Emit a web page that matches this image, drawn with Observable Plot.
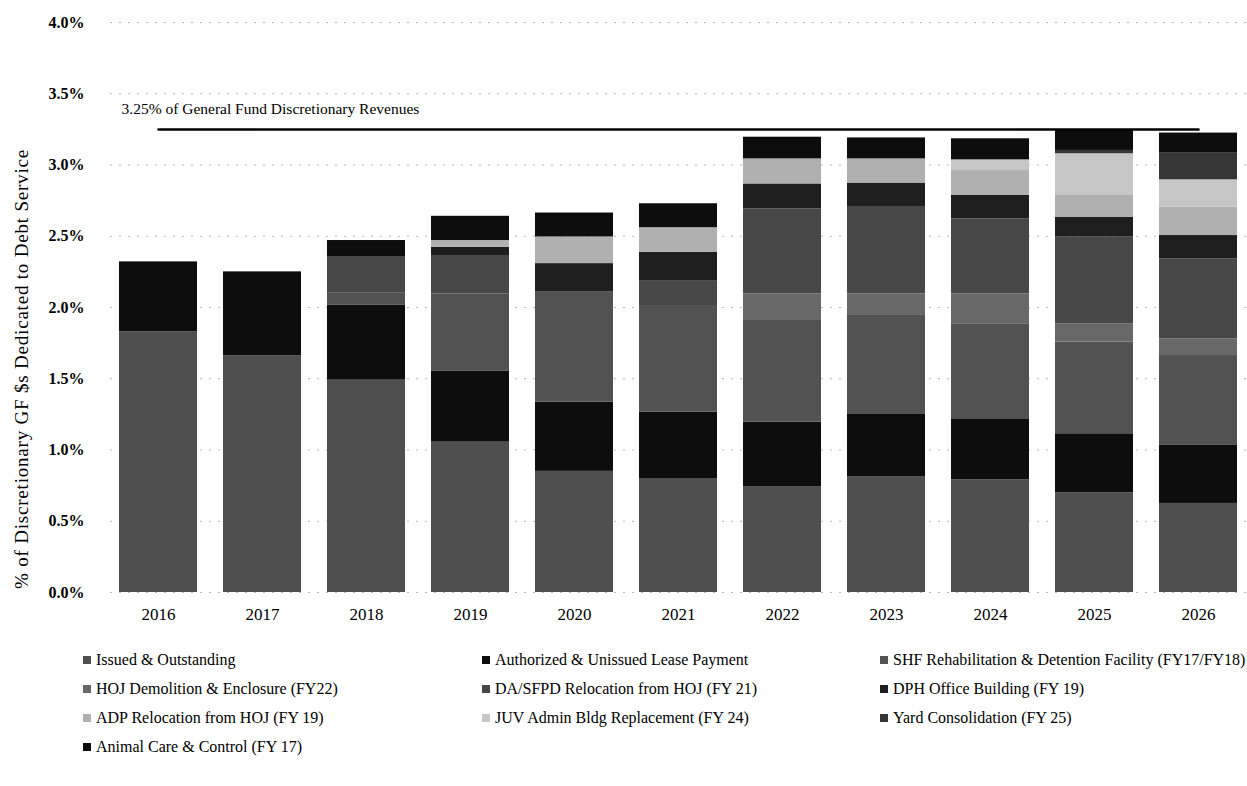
<!DOCTYPE html>
<html>
<head>
<meta charset="utf-8">
<script src="https://cdn.jsdelivr.net/npm/d3@7"></script>
<script src="https://cdn.jsdelivr.net/npm/@observablehq/plot@0.6"></script>
<style>
  html, body { margin: 0; padding: 0; background: #fff; overflow: hidden; }
  body { width: 1247px; height: 786px; position: relative; font-family: "Liberation Serif", "Times New Roman", serif; color: #000; }
  #chart { position: absolute; left: 0; top: 0; }
  #ytitle { position: absolute; left: 22px; top: 369px; transform: translate(-50%, -50%) rotate(-90deg); white-space: nowrap; font-size: 19px; letter-spacing: 0.8px; }
  #legend { position: absolute; left: 0; top: 650px; width: 1247px; }
  .item { position: absolute; white-space: nowrap; font-size: 16px; line-height: 20px; display: flex; align-items: center; }
  .sw { width: 8px; height: 8px; display: inline-block; margin-right: 5px; }
</style>
</head>
<body>
<div id="chart"></div>
<div id="ytitle">% of Discretionary GF $s Dedicated to Debt Service</div>
<div id="legend"></div>
<script>
// ---- data ----
const years = ["2016","2017","2018","2019","2020","2021","2022","2023","2024","2025","2026"];
const seriesNames = [
  "Issued & Outstanding",
  "Authorized & Unissued Lease Payment",
  "SHF Rehabilitation & Detention Facility (FY17/FY18)",
  "HOJ Demolition & Enclosure (FY22)",
  "DA/SFPD Relocation from HOJ (FY 21)",
  "DPH Office Building (FY 19)",
  "ADP Relocation from HOJ (FY 19)",
  "JUV Admin Bldg Replacement (FY 24)",
  "Yard Consolidation (FY 25)",
  "Animal Care & Control (FY 17)"
];
const issued     = [1.83, 1.66, 1.49, 1.055, 0.85, 0.80, 0.74, 0.81, 0.79, 0.70, 0.625];
const authorized = [0.49, 0.59, 0.525, 0.50, 0.486, 0.465, 0.455, 0.444, 0.429, 0.414, 0.407];
const shf        = [0, 0, 0.085, 0.54, 0.772, 0.749, 0.714, 0.69, 0.667, 0.643, 0.631];
const hoj        = [0, 0, 0, 0, 0, 0, 0.187, 0.152, 0.21, 0.129, 0.117];
const dasfpd     = [0, 0, 0.253, 0.27, 0, 0.175, 0.596, 0.613, 0.526, 0.608, 0.562];
const dph        = [0, 0, 0, 0.058, 0.2, 0.199, 0.175, 0.164, 0.164, 0.14, 0.163];
const adp        = [0, 0, 0, 0.047, 0.187, 0.172, 0.176, 0.17, 0.175, 0.152, 0.2];
const juv        = [0, 0, 0, 0, 0, 0, 0, 0, 0.075, 0.293, 0.191];
const yard       = [0, 0, 0, 0, 0, 0, 0, 0, 0, 0.023, 0.187];
const animal     = [0, 0, 0.117, 0.17, 0.168, 0.168, 0.152, 0.147, 0.148, 0.14, 0.141];
const yTicks = [0, 0.5, 1.0, 1.5, 2.0, 2.5, 3.0, 3.5, 4.0];
const capValue = 3.25;
const capLabel = "3.25% of General Fund Discretionary Revenues";
const grays = ["#4f4f4f", "#0d0d0d", "#525252", "#686868", "#474747", "#1e1e1e", "#b0b0b0", "#c6c6c6", "#363636", "#0d0d0d"];

// ---- table ----
const seriesValues = [issued, authorized, shf, hoj, dasfpd, dph, adp, juv, yard, animal];
const table = [];
years.forEach((y, i) => seriesNames.forEach((s, j) => table.push({year: y, series: s, value: seriesValues[j][i]})));

const chart = Plot.plot({
  width: 1247,
  height: 640,
  marginLeft: 110,
  marginRight: 1,
  marginTop: 22,
  marginBottom: 48,
  style: {fontFamily: "Liberation Serif, Times New Roman, serif", background: "white", color: "black"},
  x: {domain: years, paddingInner: 0.25, paddingOuter: 0.05, label: null},
  y: {domain: [0, 4], label: null},
  color: {domain: seriesNames, range: grays},
  marks: [
    Plot.ruleY(yTicks, {stroke: "#b5b5b5", strokeDasharray: "2,7", strokeWidth: 1}),
    Plot.barY(table, {x: "year", y: "value", fill: "series", order: null}),
    Plot.lineY(years, {x: d => d, y: () => capValue, stroke: "#000", strokeWidth: 2.5}),
    Plot.text([capLabel], {x: () => years[0], y: () => 3.39, text: d => d, dx: -37, textAnchor: "start", fontSize: 15.5, fill: "#000"}),
    Plot.axisY(yTicks, {tickSize: 0, tickPadding: 26, tickFormat: d => d.toFixed(1) + "%", fontSize: 16, fontWeight: "bold", label: null}),
    Plot.axisX({tickSize: 0, tickPadding: 15, fontSize: 17, label: null})
  ]
});
document.getElementById("chart").appendChild(chart);

// ---- legend ----
const colX = [83, 482, 880];
const rowY = [0, 29, 58, 87];
const legend = document.getElementById("legend");
seriesNames.forEach((s, i) => {
  const d = document.createElement("div");
  d.className = "item";
  d.style.left = colX[i % 3] + "px";
  d.style.top = rowY[Math.floor(i / 3)] + "px";
  const sw = document.createElement("span");
  sw.className = "sw";
  sw.style.background = grays[i];
  d.appendChild(sw);
  d.appendChild(document.createTextNode(s));
  legend.appendChild(d);
});
</script>
</body>
</html>
